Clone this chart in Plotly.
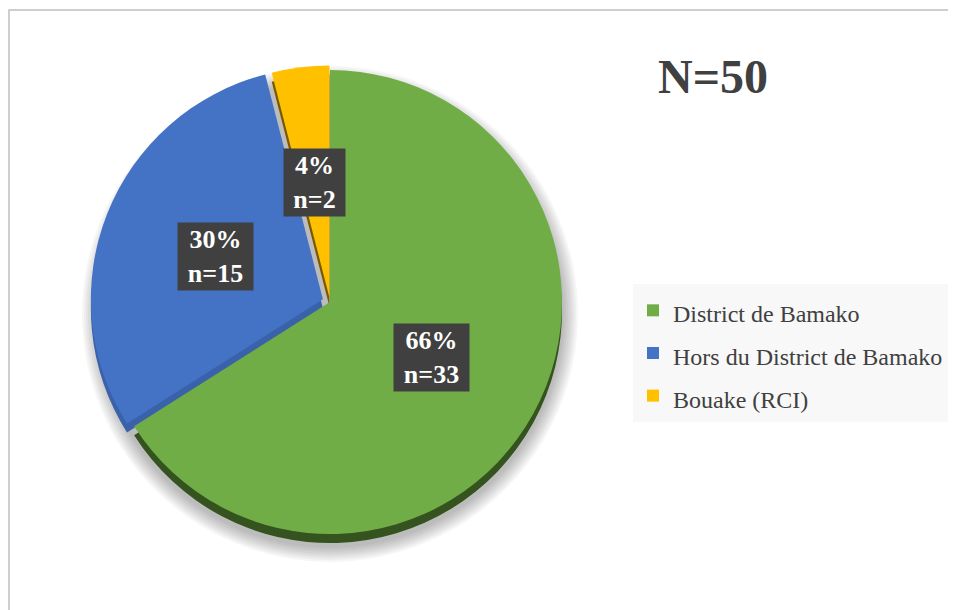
import math
import plotly.graph_objects as go

# ---- data ----
categories = ["District de Bamako", "Hors du District de Bamako", "Bouake (RCI)"]
counts = [33, 15, 2]
percent_labels = ["66%", "30%", "4%"]
total_label = "N=50"

# ---- style ----
colors = ["#70AD47", "#4472C4", "#FFC000"]
rim_colors = ["#34531F", "#3A62AA", "#7A5A00"]
pulls = [0.0, 0.033, 0.02]
SERIF = "Liberation Serif, Times New Roman, serif"

OFF = 8                         # page body margin
W, H = 956 - OFF, 610 - OFF
CX, CY, R = 330, 302, 232       # pie centre / radius in page px
DEPTH = 9                       # 3D rim thickness in px
max_pull = max(pulls)
half = R * (1 + max_pull)


def px(x):
    return (x - OFF) / W


def py(y):
    return 1 - (y - OFF) / H


def dom(dy=0):
    return dict(x=[px(CX - half), px(CX + half)],
                y=[py(CY + dy + half), py(CY + dy - half)])


fig = go.Figure()

legend_labels = [f'<span style="font-size:24px">{c}</span>' for c in categories]

# rim (3D depth) pie
fig.add_trace(go.Pie(
    labels=legend_labels, values=counts, sort=False, direction="clockwise",
    rotation=0, pull=pulls, domain=dom(DEPTH),
    marker=dict(colors=rim_colors, line=dict(width=0)),
    textinfo="none", hoverinfo="skip", showlegend=False,
))

# main pie
fig.add_trace(go.Pie(
    labels=legend_labels, values=counts, sort=False, direction="clockwise",
    rotation=0, pull=pulls, domain=dom(0),
    marker=dict(colors=colors, line=dict(width=0)),
    textinfo="none", showlegend=True,
))

# soft shadow rings behind the pie
shapes = []
for k in range(1, 9):
    rr = R + 2 * k
    scy = CY + 12
    shapes.append(dict(
        type="circle", xref="paper", yref="paper", layer="below",
        x0=px(CX - rr), x1=px(CX + rr), y0=py(scy + rr), y1=py(scy - rr),
        fillcolor="rgba(0,0,0,0.035)", line=dict(width=0),
    ))

# chart frame (top and left edges)
shapes.append(dict(
    type="path", xref="paper", yref="paper", layer="above",
    path=f"M {px(9)},{py(640)} L {px(9)},{py(10)} L {px(1000)},{py(10)}",
    line=dict(color="#C0C0C0", width=1.5),
))

# data labels at half radius along each slice's mid-angle
annotations = []
total = sum(counts)
cum = 0
for lab, v, p in zip(percent_labels, counts, pulls):
    mid = (cum + v / 2) / total * 2 * math.pi
    cum += v
    sx, sy = math.sin(mid), -math.cos(mid)
    rl = 0.5 * R + p * R
    line2 = f"n={v}"
    annotations.append(dict(
        x=px(CX + rl * sx), y=py(CY + rl * sy), xref="paper", yref="paper",
        text=f"<b>{lab}</b><br><b>{line2}</b>", showarrow=False,
        font=dict(family=SERIF, size=26, color="white"),
        bgcolor="#404040", borderpad=2, width=14 * len(line2) + 15,
        xanchor="center", yanchor="middle",
    ))

fig.update_layout(
    width=W, height=H,
    margin=dict(l=0, r=0, t=0, b=0),
    paper_bgcolor="white", plot_bgcolor="white",
    title=dict(
        text=f"<b>{total_label}</b>", x=px(713), xanchor="center",
        y=py(76), yanchor="middle", yref="container",
        font=dict(family=SERIF, size=48, color="#404040"),
    ),
    legend=dict(
        x=px(633), xanchor="left", y=py(284), yanchor="top",
        bgcolor="#F8F8F8", borderwidth=0,
        font=dict(family=SERIF, size=30.5, color="#404040"),
        traceorder="normal",
    ),
    shapes=shapes,
    annotations=annotations,
)

fig.write_html("out.html")
